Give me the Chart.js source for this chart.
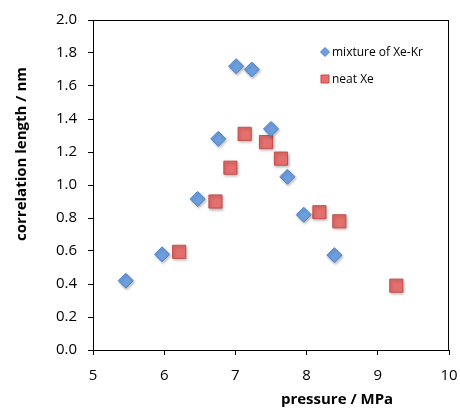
<!DOCTYPE html>
<html>
<head>
<meta charset="utf-8">
<script src="https://cdn.jsdelivr.net/npm/chart.js@4"></script>
<style>
  html, body { margin: 0; padding: 0; background: #fff; overflow: hidden; }
  canvas { display: block; }
</style>
</head>
<body>
<canvas id="c" width="460" height="414"></canvas>
<script>
// values
var mixPressure = [5.46, 5.97, 6.47, 6.76, 7.01, 7.23, 7.50, 7.73, 7.96, 8.39];
var mixLength = [0.42, 0.58, 0.915, 1.28, 1.72, 1.70, 1.34, 1.05, 0.82, 0.575];
var xePressure = [6.21, 6.72, 6.93, 7.13, 7.43, 7.64, 8.18, 8.46, 9.26];
var xeLength = [0.595, 0.90, 1.105, 1.31, 1.26, 1.16, 0.835, 0.78, 0.39];
var seriesNames = ["mixture of Xe-Kr", "neat Xe"];
var xTitle = "pressure / MPa";
var yTitle = "correlation length / nm";

function pts(xs, ys) {
  return xs.map(function (x, i) { return { x: x, y: ys[i] }; });
}

var FONT = "'Open Sans', 'Noto Sans', sans-serif";

// soft shadow under the markers, like the original
var shadow = {
  id: "shadow",
  beforeDatasetsDraw: function (chart) {
    var ctx = chart.ctx;
    ctx.save();
    ctx.shadowColor = "rgba(0,0,0,0.28)";
    ctx.shadowBlur = 3;
    ctx.shadowOffsetX = 1;
    ctx.shadowOffsetY = 1.5;
  },
  afterDatasetsDraw: function (chart) {
    chart.ctx.restore();
  }
};

// frame, axis titles and the in-plot legend
var extras = {
  id: "extras",
  afterDraw: function (chart) {
    var ctx = chart.ctx;
    var a = chart.chartArea;
    var l = Math.round(a.left), r = Math.round(a.right), t = Math.round(a.top), b = Math.round(a.bottom);
    ctx.save();
    ctx.strokeStyle = "#000";
    ctx.lineWidth = 1;
    ctx.strokeRect(l + 0.5, t + 0.5, r - l - 1, b - t);
    ctx.restore();

    ctx.save();
    ctx.fillStyle = "#000";
    ctx.font = "bold 15px " + FONT;
    ctx.textAlign = "center";
    ctx.textBaseline = "middle";
    ctx.fillText(xTitle, a.left + 244, a.bottom + 50);
    ctx.translate(a.left - 71, a.top + 134);
    ctx.rotate(-Math.PI / 2);
    ctx.fillText(yTitle, 0, 0);
    ctx.restore();

    ctx.save();
    ctx.font = "12px " + FONT;
    ctx.textAlign = "left";
    ctx.textBaseline = "middle";
    chart.data.datasets.forEach(function (ds, i) {
      var lx = a.left + 232, ly = a.top + 32 + i * 27;
      ctx.fillStyle = ds.backgroundColor;
      ctx.strokeStyle = ds.borderColor;
      ctx.lineWidth = 1;
      Chart.helpers.drawPoint(ctx, { pointStyle: ds.pointStyle, radius: ds.pointStyle === "rect" ? 5.7 : 4.5, rotation: 0, borderWidth: 1 }, lx, ly);
      ctx.fillStyle = "#000";
      ctx.fillText(ds.label, lx + 7, ly + 1);
    });
    ctx.restore();
  }
};

new Chart(document.getElementById("c"), {
  type: "scatter",
  data: {
    datasets: [
      {
        label: seriesNames[0],
        data: pts(mixPressure, mixLength),
        pointStyle: "rectRot",
        pointRadius: 7.5,
        pointHoverRadius: 7.5,
        backgroundColor: "#6d9fdf",
        borderColor: "#4f82c4",
        borderWidth: 1
      },
      {
        label: seriesNames[1],
        data: pts(xePressure, xeLength),
        pointStyle: "rect",
        pointRadius: 9.3,
        pointHoverRadius: 9.3,
        backgroundColor: "#e46f6c",
        borderColor: "#c4504d",
        borderWidth: 1
      }
    ]
  },
  options: {
    responsive: false,
    animation: false,
    devicePixelRatio: 1,
    layout: { padding: { top: 20, right: 11, left: 0, bottom: 0 } },
    plugins: {
      legend: { display: false },
      tooltip: { enabled: false }
    },
    scales: {
      x: {
        type: "linear",
        min: 5,
        max: 10,
        afterFit: function (s) { s.height = 64; s.paddingLeft = 0; s.paddingRight = 0; },
        ticks: { stepSize: 1, padding: 12, color: "#000", font: { family: FONT, size: 15 } },
        grid: { display: true, drawOnChartArea: false, drawTicks: true, tickLength: 5, color: "#000", lineWidth: 1 },
        border: { display: true, color: "#000", width: 1 }
      },
      y: {
        type: "linear",
        min: 0,
        max: 2,
        afterFit: function (s) { s.width = 93; s.paddingTop = 0; s.paddingBottom = 0; },
        ticks: {
          stepSize: 0.2,
          padding: 11,
          color: "#000",
          font: { family: FONT, size: 15 },
          callback: function (v) { return v.toFixed(1); }
        },
        grid: { display: true, drawOnChartArea: false, drawTicks: true, tickLength: 5, color: "#000", lineWidth: 1 },
        border: { display: true, color: "#000", width: 1 }
      }
    }
  },
  plugins: [shadow, extras]
});
</script>
</body>
</html>
